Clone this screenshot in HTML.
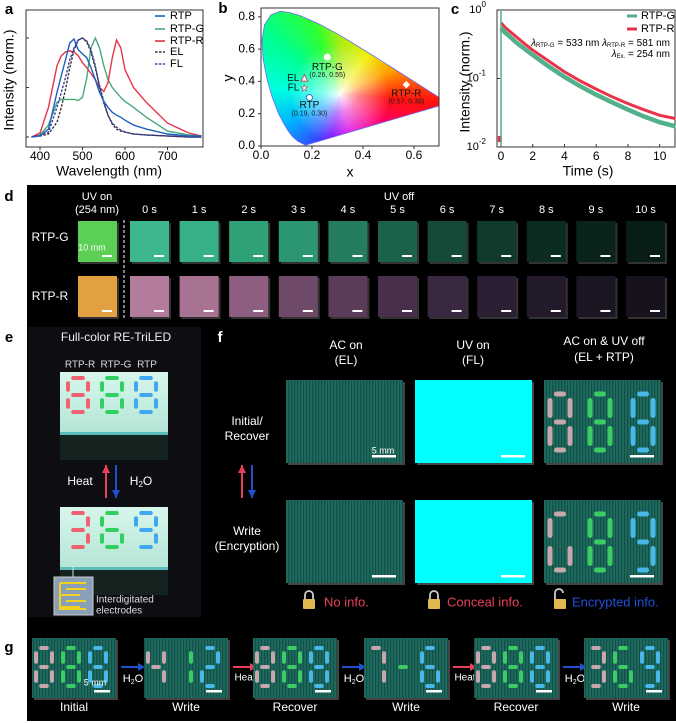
<!DOCTYPE html>
<html><head><meta charset="utf-8"><style>
html,body{margin:0;padding:0;background:#fff;}
#wrap{position:relative;width:676px;height:723px;overflow:hidden;font-family:"Liberation Sans",sans-serif;}
#cie{position:absolute;left:261px;top:8px;width:178px;height:139px;}
#s{position:absolute;left:0;top:0;}
</style></head><body>
<div id="wrap">
<div id="cie"></div>
<svg id="s" width="676" height="723" xmlns="http://www.w3.org/2000/svg">
<defs>
<pattern id="stripe" width="3" height="10" patternUnits="userSpaceOnUse"><rect width="3" height="10" fill="#1d6a5e"/><rect width="1.2" height="10" fill="#145047"/></pattern>
<linearGradient id="dev" x1="0" y1="0" x2="0" y2="1"><stop offset="0" stop-color="#d8f6ec"/><stop offset="1" stop-color="#b4e6d6"/></linearGradient>
</defs>
</svg>
</div>
<script>
// ---------- Panel a data ----------
const aWl=[380,400,420,440,450,460,470,480,490,500,510,520,530,540,550,560,570,580,590,600,620,650,700,750,780];
const aRTP=[0,0.01,0.08,0.45,0.62,0.78,0.95,0.99,0.88,0.84,0.8,0.7,0.58,0.45,0.36,0.3,0.25,0.22,0.2,0.17,0.12,0.08,0.03,0.01,0.01];
const aRTPG=[0,0.02,0.12,0.35,0.38,0.38,0.38,0.38,0.37,0.4,0.6,0.9,1.0,0.9,0.72,0.58,0.5,0.45,0.4,0.36,0.3,0.2,0.06,0.02,0.01];
const aRTPR=[0,0.04,0.3,0.72,0.82,0.86,0.87,0.86,0.82,0.75,0.7,0.64,0.58,0.5,0.46,0.55,0.8,0.98,0.9,0.68,0.5,0.35,0.14,0.04,0.01];
const aEL=[0,0.01,0.03,0.15,0.3,0.48,0.7,0.88,0.98,1.0,0.96,0.86,0.7,0.52,0.36,0.22,0.13,0.08,0.06,0.05,0.03,0.02,0.01,0,0];
const aFL=[0,0.02,0.05,0.3,0.45,0.6,0.78,0.9,0.98,1.0,0.97,0.88,0.72,0.5,0.34,0.22,0.14,0.1,0.07,0.05,0.03,0.02,0.01,0,0];
const aTicks=[400,500,600,700];
// ---------- Panel b data ----------
const bLocusX=[0.1741,0.1440,0.1241,0.1096,0.0913,0.0687,0.0454,0.0235,0.0082,0.0039,0.0139,0.0389,0.0743,0.1142,0.1547,0.2296,0.3016,0.3731,0.4441,0.5125,0.5752,0.6270,0.6915,0.7347];
const bLocusY=[0.0050,0.0297,0.0578,0.0868,0.1327,0.2007,0.2950,0.4127,0.5384,0.6548,0.7502,0.8120,0.8338,0.8262,0.8059,0.7543,0.6923,0.6245,0.5547,0.4866,0.4242,0.3725,0.3083,0.2653];
const bNames=['RTP-G','RTP-R','RTP','EL','FL'];
const bX=[0.26,0.57,0.19,0.17,0.17];
const bY=[0.55,0.38,0.30,0.42,0.36];
const bTicksX=[0.0,0.2,0.4,0.6];
const bTicksY=[0.0,0.2,0.4,0.6,0.8];
// ---------- Panel c data ----------
const cT=[0,0.25,0.5,1,1.5,2,3,4,5,6,7,8,9,10,11];
const cG=[0.55,0.47,0.42,0.33,0.27,0.22,0.15,0.105,0.077,0.058,0.045,0.035,0.028,0.023,0.02];
const cR=[0.65,0.56,0.5,0.4,0.32,0.26,0.18,0.125,0.092,0.07,0.054,0.043,0.035,0.029,0.026];
const cTicksX=[0,2,4,6,8,10];
const cTicksY=[0,-1,-2];

const S=document.getElementById('s');
const NS='http://www.w3.org/2000/svg';
function mk(tag,at,p){const e=document.createElementNS(NS,tag);for(const k in at)e.setAttribute(k,at[k]);(p||S).appendChild(e);return e;}
function nm(e,n,i){


return e;}
function tx(x,y,s,o,n){o=o||{};const e=mk('text',{x:x,y:y,'font-size':o.fs||11,fill:o.c||'#000','text-anchor':o.a||'middle','font-weight':o.w||'normal','font-family':'Liberation Sans, sans-serif','dominant-baseline':'middle'});if(o.r)e.setAttribute('transform','rotate(-90 '+x+' '+y+')');e.textContent=s;nm(e,n||'label');return e;}
function line(x1,y1,x2,y2,c,w,n){const e=mk('line',{x1:x1,y1:y1,x2:x2,y2:y2,stroke:c,'stroke-width':w||1});nm(e,n||'line');return e;}
function rect(x,y,w,h,f,n,extra){const e=mk('rect',Object.assign({x:x,y:y,width:w,height:h,fill:f},extra||{}));nm(e,n||'rect');return e;}

// ========== Panel a ==========
const xa=w=>40+(w-400)*0.425, ya=v=>137-v*99;
tx(9,10,'a',{fs:15,w:'bold'},'panel-label-a');
rect(26,10,177,137,'none','plot-a-frame',{stroke:'#333','stroke-width':1});
aTicks.forEach(t=>{line(xa(t),147,xa(t),150,'#333',1,'x-tick-a');tx(xa(t),157,String(t),{fs:12},'x-tick-label-a');});
[0,0.5,1].forEach(v=>line(26,ya(v),29,ya(v),'#333',1,'y-tick-a'));
tx(109,172,'Wavelength (nm)',{fs:14},'x-axis-title-a');
tx(10,80,'Intensity (norm.)',{fs:14,r:1},'y-axis-title-a');
function aLine(vals,c,dash,n){const d=vals.map((v,i)=>(i?'L':'M')+xa(aWl[i]).toFixed(1)+','+ya(v).toFixed(1)).join('');const e=mk('path',{d:d,fill:'none',stroke:c,'stroke-width':1.4,'stroke-dasharray':dash||''});nm(e,n);}
aLine(aRTPG,'#4aa87a','', 'series-rtp-g');
aLine(aRTPR,'#e8334a','', 'series-rtp-r');
aLine(aEL,'#333','2.5,1.5','series-el');
aLine(aFL,'#3a3aa0','2.5,1.5','series-fl');
aLine(aRTP,'#1f5fbf','', 'series-rtp');
[['RTP','#1f5fbf',''],['RTP-G','#4aa87a',''],['RTP-R','#e8334a',''],['EL','#333','2.5,1.5'],['FL','#3a3aa0','2.5,1.5']].forEach((L,i)=>{const y=[16,29,41,52,64][i];const e=mk('line',{x1:155,y1:y,x2:165,y2:y,stroke:L[1],'stroke-width':1.6,'stroke-dasharray':L[2]});nm(e,'legend-swatch-'+L[0].toLowerCase());tx(170,y,L[0],{fs:11,a:'start'},'legend-entry-'+L[0].toLowerCase());});

// ========== Panel b ==========
const xb=x=>261+x*255, yb=y=>146-y*161.5;
tx(223,9,'b',{fs:15,w:'bold'},'panel-label-b');
const cie=document.getElementById('cie');
const pts=bLocusX.map((x,i)=>(xb(x)-261).toFixed(1)+'px '+(yb(bLocusY[i])-8).toFixed(1)+'px').join(',');
cie.style.clipPath='polygon('+pts+')';
const wx=xb(0.31)-261, wy=yb(0.32)-8;
cie.style.background='radial-gradient(circle at '+wx+'px '+wy+'px, rgba(255,255,255,0.95) 0, rgba(255,255,255,0.5) 18px, rgba(255,255,255,0) 50px), conic-gradient(from 0deg at '+wx+'px '+wy+'px, #a8ee10 0deg, #f0f000 35deg, #ffa000 65deg, #ff1010 95deg, #ff0070 125deg, #e000e0 165deg, #7a00ff 190deg, #3050ff 210deg, #00b0ff 240deg, #00ffe0 275deg, #00ff90 310deg, #30ff30 340deg, #a8ee10 360deg)';
const locusD=bLocusX.map((x,i)=>(i?'L':'M')+xb(x).toFixed(1)+','+yb(bLocusY[i]).toFixed(1)).join('')+'Z';
nm(mk('path',{d:locusD,fill:'none',stroke:'#6a6af0','stroke-width':0.8}),'spectral-locus');
rect(439.5,8,10,140,'#fff','plot-b-right-mask');
rect(261,8,178,138,'none','plot-b-frame',{stroke:'#333','stroke-width':1});
bTicksX.forEach(t=>{line(xb(t),146,xb(t),149,'#333',1,'x-tick-b');tx(xb(t),156,t.toFixed(1),{fs:12},'x-tick-label-b');});
bTicksY.forEach(t=>{line(261,yb(t),258,yb(t),'#333',1,'y-tick-b');tx(255,yb(t),t.toFixed(1),{fs:12,a:'end'},'y-tick-label-b');});
tx(350,173,'x',{fs:14},'x-axis-title-b');
tx(229,78,'y',{fs:14,r:1},'y-axis-title-b');
bNames.forEach((n,i)=>{const px=xb(bX[i]),py=yb(bY[i]);let e;
 if(n==='EL'){e=mk('path',{d:'M'+px+','+(py-3.5)+'L'+(px+3.5)+','+(py+3)+'L'+(px-3.5)+','+(py+3)+'Z',fill:'#fff',stroke:'#c05060','stroke-width':1});}
 else if(n==='FL'){e=mk('text',{x:px,y:py+3,'font-size':9,fill:'#fff',stroke:'#c05060','stroke-width':0.6,'text-anchor':'middle'});e.textContent='★';}
 else if(n==='RTP-R'){e=mk('path',{d:'M'+px+','+(py-3)+'L'+(px+3)+','+py+'L'+px+','+(py+3)+'L'+(px-3)+','+py+'Z',fill:'#fff',stroke:'#fff'});}
 else{e=mk('circle',{cx:px,cy:py,r:3,fill:'#fff',stroke:n==='RTP'?'#3a70c0':'#fff','stroke-width':1});}
 nm(e,'cie-point-'+n.toLowerCase());
 const lab={ 'RTP-G':[px,py+10,'middle'],'RTP-R':[px,py+9,'middle'],'RTP':[px,py+8,'middle'],'EL':[px-5,py,'end'],'FL':[px-5,py,'end']}[n];
 tx(lab[0],lab[1],n,{fs:10,a:lab[2],c:'#111'},'cie-label-'+n.toLowerCase());
 if(n==='RTP-G'||n==='RTP-R'||n==='RTP') tx(lab[0],lab[1]+8,'('+bX[i].toFixed(2)+', '+bY[i].toFixed(2)+')',{fs:7,c:'#222'},'cie-coord-'+n.toLowerCase());
});

// ========== Panel c ==========
tx(455,10,'c',{fs:15,w:'bold'},'panel-label-c');
const xc=t=>501+t*15.87, yc=v=>10+(-Math.log10(v))*68.5;
rect(497,10,178,137,'none','plot-c-frame',{stroke:'#333','stroke-width':1});
cTicksX.forEach(t=>{line(xc(t),147,xc(t),144,'#333',1,'x-tick-c');tx(xc(t),157,String(t),{fs:12},'x-tick-label-c');});
cTicksY.forEach(p=>{const y=yc(Math.pow(10,p));line(497,y,500,y,'#333',1,'y-tick-c');const e=tx(486,y,'10',{fs:11,a:'end'},'y-tick-label-c');const ts=mk('tspan',{dy:-5,'font-size':8},e);ts.textContent=String(p);});
tx(588,172,'Time (s)',{fs:14},'x-axis-title-c');
tx(466,82,'Intensity (norm.)',{fs:14,r:1},'y-axis-title-c');
function cLine(vals,c,w,n){const d=vals.map((v,i)=>(i?'L':'M')+xc(cT[i]).toFixed(1)+','+yc(v).toFixed(1)).join('');nm(mk('path',{d:d,fill:'none',stroke:c,'stroke-width':w}),n);}
rect(xc(-0.2),yc(0.0145),4,yc(0.0118)-yc(0.0145),'#e8334a','series-rtp-r-pre');
cLine(cR,'#e8334a',3,'series-rtp-r-decay');
cLine(cG,'#52b08a',4.5,'series-rtp-g-decay');
line(xc(0),146,xc(0),yc(1),'#52b08a',1.5,'series-rtp-g-spike');
line(627,16,637,16,'#52b08a',3,'legend-swatch-rtp-g');tx(641,16,'RTP-G',{fs:11,a:'start'},'legend-entry-rtp-g');
line(627,29,637,29,'#e8334a',3,'legend-swatch-rtp-r');tx(641,29,'RTP-R',{fs:11,a:'start'},'legend-entry-rtp-r');
(function(){const e=tx(670,43,'',{fs:10,a:'end'},'annotation-wavelengths');e.innerHTML='<tspan font-style="italic">λ</tspan><tspan font-size="6" dy="2">RTP-G</tspan><tspan dy="-2"> = 533 nm  </tspan><tspan font-style="italic">λ</tspan><tspan font-size="6" dy="2">RTP-R</tspan><tspan dy="-2"> = 581 nm</tspan>';
const f=tx(670,54,'',{fs:10,a:'end'},'annotation-excitation');f.innerHTML='<tspan font-style="italic">λ</tspan><tspan font-size="6" dy="2">Ex.</tspan><tspan dy="-2"> = 254 nm</tspan>';})();

// ========== Panel d ==========
tx(9,197,'d',{fs:15,w:'bold'},'panel-label-d');
rect(27,185,649,144,'#000','panel-d-background');
const dLabels=['0 s','1 s','2 s','3 s','4 s','5 s','6 s','7 s','8 s','9 s','10 s'];
const dG=['#5ccf55','#3db88c','#36b084','#2fa377','#2b9670','#247e5e','#1c6249','#154a38','#103a2c','#0c2c22','#0a241c','#081d16'];
const dR=['#e3a040','#b47c9c','#a87292','#8e5e80','#6e4a68','#5a3c58','#48304a','#3a2840','#2c1f34','#231a2c','#1c1624','#17121e'];
tx(97,197,'UV on',{fs:11,c:'#fff'},'uv-on-label');tx(97,210,'(254 nm)',{fs:11,c:'#fff'},'uv-on-wavelength');
tx(399,197,'UV off',{fs:11,c:'#fff'},'uv-off-label');
tx(50,238,'RTP-G',{fs:12,c:'#fff'},'row-label-rtp-g');tx(50,297,'RTP-R',{fs:12,c:'#fff'},'row-label-rtp-r');
nm(mk('line',{x1:124,y1:220,x2:124,y2:318,stroke:'#fff','stroke-width':1,'stroke-dasharray':'3,2'}),'uv-divider');
for(let i=0;i<12;i++){const x=i===0?78:130+(i-1)*49.6;
 if(i>0)tx(x+19.5,210,dLabels[i-1],{fs:11,c:'#fff'},'time-label');
 rect(x+2,223,39,41,'#333','tile-shadow');rect(x,221,39,41,dG[i],'tile-rtp-g');
 rect(x+2,278,39,41,'#333','tile-shadow');rect(x,276,39,41,dR[i],'tile-rtp-r');
 rect(x+24,255,10,2,'#fff','scale-bar');rect(x+24,310,10,2,'#fff','scale-bar');}
tx(92,248,'10 mm',{fs:9,c:'#fff'},'scale-label-10mm');

// 7-seg helper
const SEG={a:[0,-1,1],b:[1,-0.5,0],c:[1,0.5,0],d:[0,1,1],e:[-1,0.5,0],f:[-1,-0.5,0],g:[0,0,1]};
const DIG={'8':'abcdefg','3':'abcdg','6':'acdefg','9':'abcdfg','4':'bcfg','7':'abc','2':'abdeg','0':'abcdef','1':'bc','5':'acdfg'};
function seven(cx,cy,w,h,segs,col,t,n){segs.split('').forEach(s=>{const q=SEG[s];
 if(q[2]){rect(cx-w/2+t*0.8,cy+q[1]*h/2-t/2,w-1.6*t,t,col,n+'-seg',{rx:t/2});}
 else{rect(cx+q[0]*w/2-t/2,cy+q[1]*h/2-(h/2-1.6*t)/2,t,h/2-1.6*t,col,n+'-seg',{rx:t/2});}});}

// ========== Panels e/f backgrounds ==========
rect(27,325,649,295,'#000','panel-ef-background');
tx(9,338,'e',{fs:15,w:'bold'},'panel-label-e');
rect(28,327,173,290,'#0e0e12','panel-e-background');
tx(116,338,'Full-color RE-TriLED',{fs:12,c:'#eee'},'panel-e-title');
tx(80,365,'RTP-R',{fs:10,c:'#ddd'},'device-label-rtp-r');tx(116,365,'RTP-G',{fs:10,c:'#ddd'},'device-label-rtp-g');tx(147,365,'RTP',{fs:10,c:'#ddd'},'device-label-rtp');
function device(y0,digits,n){rect(60,y0+60,108,28,'#142220',n+'-stack');rect(60,y0+58,108,5,'#5cbcbc',n+'-edge');rect(60,y0,108,60,'url(#dev)',n+'-body');
 const cols=['#f06272','#30d060','#40a8f0'],cxs=[78,112,146];digits.forEach((d,i)=>seven(cxs[i],y0+23,20,34,DIG[d],cols[i],4,n+'-digit'));}
device(372,['8','8','8'],'device-initial');
device(507,['3','6','9'],'device-written');
tx(80,482,'Heat',{fs:12,c:'#fff'},'heat-label');
(function(){const e=tx(141,482,'',{fs:12,c:'#fff'},'h2o-label');e.innerHTML='H<tspan font-size="8" dy="3">2</tspan><tspan dy="-3">O</tspan>';})();
function arrow(x,y1,y2,c,n){line(x,y1,x,y2,c,2,n);const d=y2<y1?-1:1;nm(mk('path',{d:'M'+(x-4)+','+(y2-d*8)+'L'+x+','+y2+'L'+(x+4)+','+(y2-d*8)+'Z',fill:c}),n+'-head');}
arrow(106,498,465,'#e8405a','arrow-heat');arrow(116,465,498,'#1f50d0','arrow-h2o');
line(73,565,73,577,'#ddd',1,'electrode-pointer');
rect(54,577,39,38,'#8aa0b8','electrode-inset',{stroke:'#ccc'});
nm(mk('path',{d:'M60,583H86M60,583V609H86M66,589H86M60,595H80M66,601H86M60,607H80',fill:'none',stroke:'#f0d020','stroke-width':2}),'electrode-pattern');
tx(96,600,'Interdigitated',{fs:10,c:'#ddd',a:'start'},'electrode-label-1');tx(96,611,'electrodes',{fs:10,c:'#ddd',a:'start'},'electrode-label-2');

// ========== Panel f ==========
tx(220,338,'f',{fs:15,w:'bold',c:'#fff'},'panel-label-f');
tx(346,346,'AC on',{fs:12,c:'#fff'},'header-ac-on');tx(346,361,'(EL)',{fs:12,c:'#fff'},'header-el');
tx(473,346,'UV on',{fs:12,c:'#fff'},'header-uv-on');tx(473,361,'(FL)',{fs:12,c:'#fff'},'header-fl');
tx(604,342,'AC on & UV off',{fs:12,c:'#fff'},'header-ac-uv-off');tx(604,358,'(EL + RTP)',{fs:12,c:'#fff'},'header-el-rtp');
tx(247,422,'Initial/',{fs:12,c:'#fff'},'row-label-initial');tx(247,437,'Recover',{fs:12,c:'#fff'},'row-label-recover');
tx(247,532,'Write',{fs:12,c:'#fff'},'row-label-write');tx(247,547,'(Encryption)',{fs:12,c:'#fff'},'row-label-encryption');
arrow(242,498,465,'#e8405a','arrow-f-heat');arrow(252,465,498,'#1f50d0','arrow-f-h2o');
const fCols=[286,415,544];
[380,500].forEach((y,r)=>{fCols.forEach((x,c)=>{rect(x+2,y+2,117,83,'#444','tile-shadow');
 rect(x,y,117,83,c===1?'#00ffff':'url(#stripe)',c===1?'tile-fl':'tile-el');
 rect(x+86,y+75,24,2.5,'#fff','scale-bar');});
 seven(560,y+42,20,56,r===0?DIG['8']:'acdef','#c8a6ae',5,'f-digit-pink');
 seven(600,y+42,20,56,DIG['8'],'#3ccc66',5,'f-digit-green');
 seven(643,y+42,20,56,r===0?DIG['8']:DIG['9'],'#48b8e8',5,'f-digit-blue');});
tx(383,451,'5 mm',{fs:9,c:'#fff'},'scale-label-5mm');
function lock(x,y,open,n){const g=mk('g',{});nm(g,n);mk('path',{d:open?'M'+(x-5)+','+(y-2)+'V'+(y-9)+'a4,4 0 0 1 8,0':'M'+(x-4)+','+(y-2)+'V'+(y-7)+'a4,4 0 0 1 8,0V'+(y-2),fill:'none',stroke:'#ccc','stroke-width':1.8},g);mk('rect',{x:x-6,y:y-3,width:12,height:10,fill:'#e0b850',rx:1},g);}
lock(309,602,false,'lock-closed-1');tx(324,603,'No info.',{fs:13,c:'#e8405a',a:'start'},'status-no-info');
lock(434,602,false,'lock-closed-2');tx(447,603,'Conceal info.',{fs:13,c:'#e8405a',a:'start'},'status-conceal-info');
lock(560,602,true,'lock-open');tx(572,603,'Encrypted info.',{fs:13,c:'#2050e0',a:'start'},'status-encrypted-info');

// ========== Panel g ==========
tx(9,648,'g',{fs:15,w:'bold'},'panel-label-g');
rect(27,620,649,101,'#000','panel-g-background');
const gX=[32,144,253,364,474,584];
const gLab=['Initial','Write','Recover','Write','Recover','Write'];
const gDig=[['8','8','8'],['4','1','2'],['8','8','8'],['7','g','6'],['8','8','8'],['3','6','9']];
gX.forEach((x,i)=>{rect(x+2,640,84,60,'#444','tile-shadow');rect(x,638,84,60,'url(#stripe)','g-tile');
 const cols=['#c8a6ae','#3ccc66','#48b8e8'];gDig[i].forEach((d,j)=>seven(x+12+j*27,667,16,38,d==='g'?'g':DIG[d],cols[j],4,'g-digit'));
 rect(x+62,690,16,2.5,'#fff','scale-bar');
 tx(x+42,708,gLab[i],{fs:12,c:'#fff'},'g-label-'+gLab[i].toLowerCase());
 if(i<5){const red=i%2===1;const ax=x+86;line(ax+3,667,ax+20,667,red?'#e8405a':'#1f50d0',2,'g-arrow');nm(mk('path',{d:'M'+(ax+20)+',663L'+(ax+27)+',667L'+(ax+20)+',671Z',fill:red?'#e8405a':'#1f50d0'}),'g-arrow-head');
  if(red)tx(ax+15,678,'Heat',{fs:10,c:'#fff'},'g-heat-label');else{const e=tx(ax+15,679,'',{fs:11,c:'#fff'},'g-h2o-label');e.innerHTML='H<tspan font-size="7" dy="3">2</tspan><tspan dy="-3">O</tspan>';}}});
tx(95,683,'5 mm',{fs:9,c:'#fff'},'g-scale-label');
</script>
</body></html>
